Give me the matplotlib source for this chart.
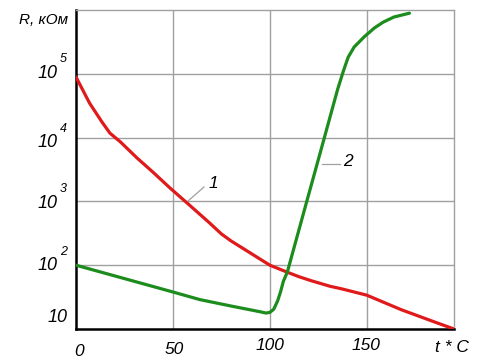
import matplotlib
matplotlib.use("Agg")
import matplotlib.pyplot as plt

# Curve 1 (red): temperature (°C) and log10(R, kOhm)
t1 = [0, 7, 13.5, 17.5, 23, 31.5, 40, 48.5, 57.5, 69, 75, 80, 90, 100, 109, 115, 121, 131, 137, 150, 168, 185, 195]
logR1 = [4.95, 4.54, 4.24, 4.07, 3.93, 3.68, 3.45, 3.21, 2.97, 2.66, 2.49, 2.38, 2.19, 2.0, 1.89, 1.82, 1.76, 1.67, 1.63, 1.53, 1.30, 1.11, 1.0]

# Curve 2 (green)
t2 = [0, 25, 50, 64, 80, 90, 95, 98, 100, 102, 104, 105.5, 107, 109, 118.5, 127.5, 135, 137.8, 140.4, 143.5, 148.7, 154, 158.5, 164, 172]
logR2 = [2.0, 1.79, 1.58, 1.46, 1.36, 1.30, 1.27, 1.25, 1.26, 1.31, 1.44, 1.58, 1.75, 1.89, 2.94, 3.93, 4.76, 5.03, 5.26, 5.42, 5.58, 5.72, 5.81, 5.89, 5.95]

xticks = [50, 100, 150]
xticklabels = ["50", "100", "150"]
ydecades = [2, 3, 4, 5]

R1 = [10 ** v for v in logR1]
R2 = [10 ** v for v in logR2]

plt.rcParams['font.family'] = ['Liberation Sans', 'DejaVu Sans']

fig = plt.figure(figsize=(4.95, 3.64), dpi=100)
ax = fig.add_axes([76 / 495, 1 - 329 / 364, (454 - 76) / 495, (329 - 10) / 364])
ax.set_yscale('log')
ax.set_xlim(0, 195)
ax.set_ylim(10, 1e6)

grid_c = '#a0a0a0'
for x in xticks:
    ax.axvline(x, color=grid_c, lw=1.0, zorder=1)
for d in ydecades:
    ax.axhline(10 ** d, color=grid_c, lw=1.0, zorder=1)

ax.plot(t1, R1, color='#e0191b', lw=2.3, zorder=3, solid_capstyle='round', solid_joinstyle='round')
ax.plot(t2, R2, color='#1c8c1c', lw=2.3, zorder=4, solid_capstyle='round', solid_joinstyle='round')

for s in ['top', 'right']:
    ax.spines[s].set_color(grid_c)
    ax.spines[s].set_linewidth(1.0)
for s in ['left', 'bottom']:
    ax.spines[s].set_color('black')
    ax.spines[s].set_linewidth(1.8)
ax.set_xticks([])
ax.set_yticks([])
ax.yaxis.set_minor_locator(matplotlib.ticker.NullLocator())

fs = 12.5


def ftext(px, py, s, **kw):
    fig.text(px / 495, 1 - py / 364, s, **kw)


# x labels
ftext(79, 352, "0", fontsize=fs, style='italic', ha='center', va='center')
ftext(174, 350, xticklabels[0], fontsize=fs, style='italic', ha='center', va='center')
ftext(270, 346, xticklabels[1], fontsize=fs, style='italic', ha='center', va='center')
ftext(366, 346, xticklabels[2], fontsize=fs, style='italic', ha='center', va='center')
ftext(452, 347, "t * C", fontsize=fs, style='italic', ha='center', va='center')

# y labels
ylab_pos = {5: 73, 4: 143, 3: 203, 2: 266}
for d, py in ylab_pos.items():
    ftext(58, py, "10", fontsize=fs + 0.5, style='italic', ha='right', va='center')
    ftext(60, py - 14, str(d), fontsize=9, style='italic', ha='left', va='center')
ftext(68, 318, "10", fontsize=fs + 0.5, style='italic', ha='right', va='center')
ftext(68, 20, "R, кОм", fontsize=11, style='italic', ha='right', va='center')

# curve labels with leader lines
fig.add_artist(matplotlib.lines.Line2D([188 / 495, 204 / 495], [1 - 201 / 364, 1 - 187 / 364],
                                       color='#a0a0a0', lw=0.9))
ftext(213, 183, "1", fontsize=fs, style='italic', ha='center', va='center')
fig.add_artist(matplotlib.lines.Line2D([322 / 495, 340 / 495], [1 - 164 / 364, 1 - 164 / 364],
                                       color='#a0a0a0', lw=0.9))
ftext(348, 162, "2", fontsize=fs, style='italic', ha='center', va='center')

fig.savefig("out.png", dpi=100)
